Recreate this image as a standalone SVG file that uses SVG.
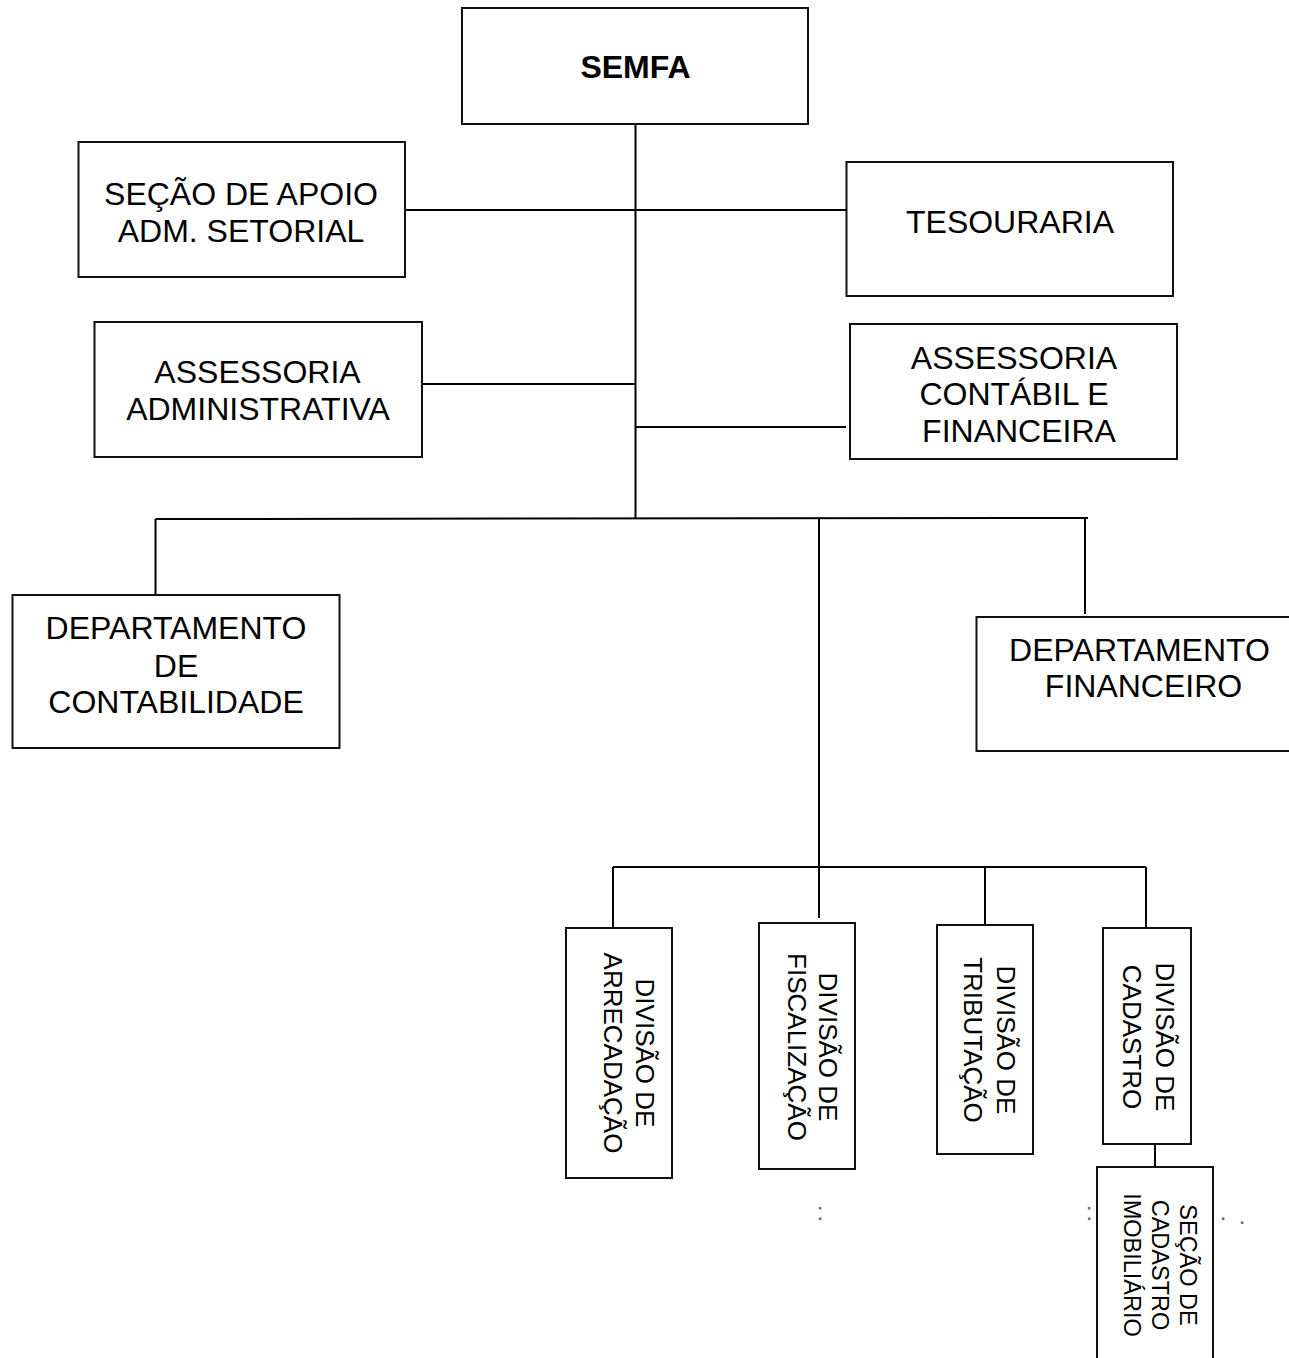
<svg xmlns="http://www.w3.org/2000/svg" width="1289" height="1358" viewBox="0 0 1289 1358">
<style>
.box{fill:#fff;stroke:#111;stroke-width:2}
.t{font-family:"Liberation Sans",Arial,sans-serif;font-size:32px;fill:#000;text-anchor:middle}
.b{font-weight:bold}
.r{font-size:26px}
.s{font-size:23.5px}
.dot{font-family:"Liberation Sans",Arial,sans-serif;font-size:24px;fill:#666;text-anchor:middle}
#connectors line{stroke:#000;stroke-width:2}
</style>
<rect width="1289" height="1358" fill="#fff"/>
<g id="connectors">
<line x1="635.5" y1="124" x2="635.5" y2="519"/>
<line x1="405" y1="210" x2="846" y2="210"/>
<line x1="422" y1="384" x2="635.5" y2="384"/>
<line x1="635.5" y1="427" x2="846" y2="427"/>
<line x1="155.5" y1="519" x2="1088" y2="518"/>
<line x1="155.5" y1="519" x2="155.5" y2="595"/>
<line x1="1085" y1="518" x2="1085" y2="614"/>
<line x1="819" y1="518" x2="819" y2="918"/>
<line x1="613" y1="867" x2="1146" y2="867"/>
<line x1="613" y1="867" x2="613" y2="927"/>
<line x1="985" y1="867" x2="985" y2="925"/>
<line x1="1146" y1="867" x2="1146" y2="927"/>
<line x1="1155" y1="1144" x2="1155" y2="1173"/>
</g>
<g id="semfa"><rect class="box" x="462" y="8" width="346" height="116"/><text class="t b" x="635.5" y="78">SEMFA</text></g>
<g id="apoio"><rect class="box" x="78.5" y="142" width="326.5" height="135"/><text class="t" x="241" y="205">SEÇÃO DE APOIO</text><text class="t" x="241" y="242">ADM. SETORIAL</text></g>
<g id="tesouraria"><rect class="box" x="846.5" y="162" width="326.5" height="134"/><text class="t" x="1010" y="233">TESOURARIA</text></g>
<g id="assessoria-adm"><rect class="box" x="94.5" y="322" width="327.5" height="135"/><text class="t" x="257.5" y="383">ASSESSORIA</text><text class="t" x="258" y="420">ADMINISTRATIVA</text></g>
<g id="assessoria-cont"><rect class="box" x="850" y="324" width="327" height="135"/><text class="t" x="1014" y="368.5">ASSESSORIA</text><text class="t" x="1014" y="405">CONTÁBIL E</text><text class="t" x="1019" y="442">FINANCEIRA</text></g>
<g id="dep-contabilidade"><rect class="box" x="12.5" y="595" width="327" height="153"/><text class="t" x="176" y="639">DEPARTAMENTO</text><text class="t" x="176" y="677">DE</text><text class="t" x="176" y="713">CONTABILIDADE</text></g>
<g id="dep-financeiro"><rect class="box" x="976.5" y="617" width="330" height="134"/><text class="t" x="1139.5" y="661">DEPARTAMENTO</text><text class="t" x="1143.5" y="697">FINANCEIRO</text></g>
<g id="div-arrecadacao"><rect class="box" x="566" y="928" width="106" height="250"/><text class="t r" transform="translate(635.7,1053) rotate(90)"><tspan x="0" y="0">DIVISÃO DE</tspan><tspan x="0" y="32">ARRECADAÇÃO</tspan></text></g>
<g id="div-fiscalizacao"><rect class="box" x="759" y="923" width="96" height="246"/><text class="t r" transform="translate(818.7,1047) rotate(90)"><tspan x="0" y="0">DIVISÃO DE</tspan><tspan x="0" y="31">FISCALIZAÇÃO</tspan></text></g>
<g id="div-tributacao"><rect class="box" x="937" y="925" width="96" height="229"/><text class="t r" transform="translate(996.7,1040) rotate(90)"><tspan x="0" y="0">DIVISÃO DE</tspan><tspan x="0" y="33">TRIBUTAÇÃO</tspan></text></g>
<g id="div-cadastro"><rect class="box" x="1103" y="928" width="88" height="216"/><text class="t r" transform="translate(1155.7,1037) rotate(90)"><tspan x="0" y="0">DIVISÃO DE</tspan><tspan x="0" y="33">CADASTRO</tspan></text></g>
<g id="secao-cadastro"><rect class="box" x="1097" y="1167" width="116" height="200"/><text class="t s" transform="translate(1179.6,1265) rotate(90)"><tspan x="0" y="0">SEÇÃO DE</tspan><tspan x="0" y="28">CADASTRO</tspan><tspan x="0" y="56">IMOBILIÁRIO</tspan></text></g>
<g id="marks"><text class="dot" x="820" y="1219.5">:</text><text class="dot" x="1089" y="1219.5">:</text><text class="dot" x="1223" y="1219.5">.</text><text class="dot" x="1242" y="1223.5">.</text></g>
</svg>
